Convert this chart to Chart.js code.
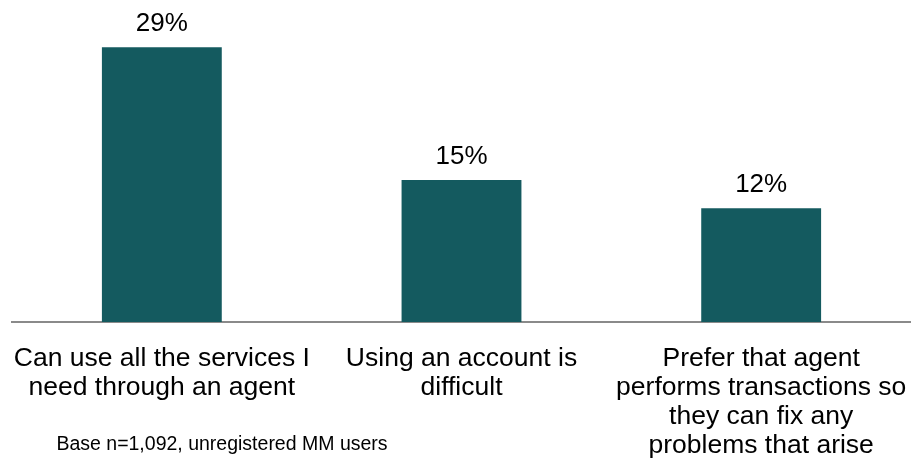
<!DOCTYPE html>
<html>
<head>
<meta charset="utf-8">
<script src="https://cdn.jsdelivr.net/npm/chart.js@4/dist/chart.umd.min.js"></script>
<style>
  html, body { margin: 0; padding: 0; background: #fff; }
  #chart { display: block; }
</style>
</head>
<body>
<canvas id="chart" width="911" height="458"></canvas>
<script>
const categories = [
  ['Can use all the services I', 'need through an agent'],
  ['Using an account is', 'difficult'],
  ['Prefer that agent', 'performs transactions so', 'they can fix any', 'problems that arise']
];
const shares = [29, 15, 12];
const baseNote = 'Base n=1,092, unregistered MM users';

const barColor = '#145a5f';
const textFont = '"Liberation Sans", Arial, sans-serif';

// percentage above each bar, plus the base note under the first category
const valueLabels = {
  id: 'valueLabels',
  afterDatasetsDraw(chart) {
    const { ctx } = chart;
    const meta = chart.getDatasetMeta(0);
    ctx.save();
    ctx.fillStyle = '#000';
    ctx.textAlign = 'center';
    ctx.textBaseline = 'alphabetic';
    ctx.font = `26px ${textFont}`;
    meta.data.forEach((bar, i) => {
      ctx.fillText(`${shares[i]}%`, bar.x, bar.y - 16);
    });
    ctx.font = `19.5px ${textFont}`;
    ctx.fillText(baseNote, 222, 450);
    ctx.restore();
  }
};

new Chart(document.getElementById('chart'), {
  type: 'bar',
  data: {
    labels: categories,
    datasets: [{
      data: shares,
      backgroundColor: barColor,
      barPercentage: 0.4,
      categoryPercentage: 1
    }]
  },
  options: {
    responsive: false,
    animation: false,
    layout: { padding: { left: 12, right: 0, top: 0, bottom: 0 } },
    plugins: {
      legend: { display: false },
      tooltip: { enabled: false }
    },
    scales: {
      x: {
        grid: { display: false },
        border: { display: true, color: '#8a8a8a', width: 2 },
        ticks: {
          color: '#000',
          padding: 14,
          maxRotation: 0,
          autoSkip: false,
          font: { family: textFont, size: 26.5, lineHeight: '29px' }
        },
        afterFit(scale) {
          // keep the wide edge labels from shrinking the plot area
          scale.height = 136;
          scale.paddingLeft = 0;
          scale.paddingRight = 0;
        }
      },
      y: {
        display: false,
        min: 0,
        max: 34
      }
    }
  },
  plugins: [valueLabels]
});
</script>
</body>
</html>
